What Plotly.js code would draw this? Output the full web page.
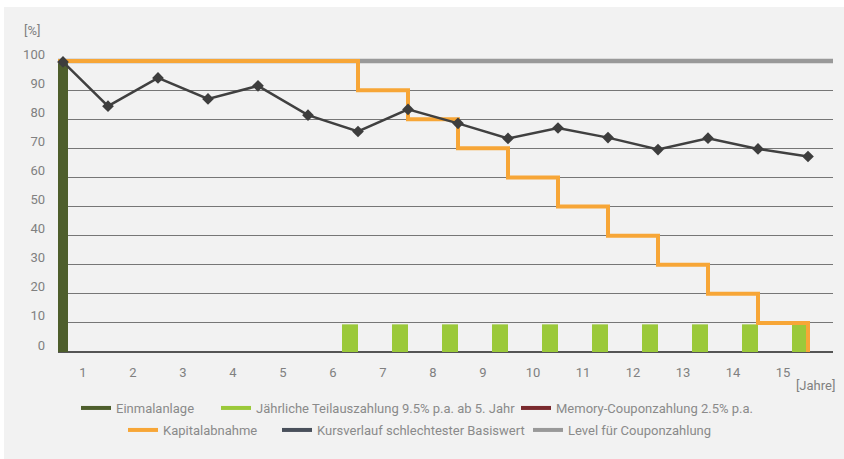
<!DOCTYPE html>
<html><head><meta charset="utf-8">
<script src="https://cdn.plot.ly/plotly-3.0.1.min.js"></script>
<style>html,body{margin:0;padding:0;background:#fff;} #chart{position:absolute;left:4px;top:7px;width:840px;height:452px;}</style>
</head><body><div id="chart"></div>
<script>
// tick labels (years)
const yearLabels = ['1','2','3','4','5','6','7','8','9','10','11','12','13','14','15'];
const yTickVals = [0,10,20,30,40,50,60,70,80,90,100];

// Einmalanlage (initial investment)
const einmalX = [0];
const einmalY = [100];

// Jährliche Teilauszahlung 9.5% p.a. ab 5. Jahr
const teilX = [6,7,8,9,10,11,12,13,14,15];
const teilY = [9.5,9.5,9.5,9.5,9.5,9.5,9.5,9.5,9.5,9.5];

// Memory-Couponzahlung 2.5% p.a. (no visible values)
const memoryX = [null];
const memoryY = [null];

// Kapitalabnahme (step line)
const kapitalX = [0,6,7,8,9,10,11,12,13,14,15];
const kapitalY = [100,90,80,70,60,50,40,30,20,10,0];

// Kursverlauf schlechtester Basiswert
const kursX = [0.1,1,2,3,4,5,6,7,8,9,10,11,12,13,14,15];
const kursY = [99.7,84.5,94.2,87,91.5,81.4,75.8,83.4,78.6,73.4,77,73.7,69.6,73.5,69.8,67.2];

// Level für Couponzahlung
const levelX = [0,15.5];
const levelY = [100,100];

const names = ['Einmalanlage','Jährliche Teilauszahlung 9.5% p.a. ab 5. Jahr','Memory-Couponzahlung 2.5% p.a.','Kapitalabnahme','Kursverlauf schlechtester Basiswert','Level für Couponzahlung'];
const colors = ['#4E5E2C','#9BC93A','#7A2A2E','#F7A637','#49505B','#999999'];

const tickPos = yearLabels.map((_, i) => i + 0.5);

const traces = [
  {type:'bar', x:einmalX, y:einmalY, offset:0, width:0.2, marker:{color:colors[0]}, showlegend:false, hoverinfo:'skip'},
  {type:'bar', x:teilX, y:teilY, offset:-0.32, width:0.32, marker:{color:colors[1]}, showlegend:false, hoverinfo:'skip'},
  {type:'bar', x:memoryX, y:memoryY, marker:{color:colors[2]}, showlegend:false, hoverinfo:'skip'},
  {type:'scatter', mode:'lines', x:levelX, y:levelY, line:{color:colors[5], width:4.5}, showlegend:false},
  {type:'scatter', mode:'lines', x:kapitalX, y:kapitalY, line:{color:colors[3], width:4, shape:'hv'}, showlegend:false},
  {type:'scatter', mode:'lines+markers', x:kursX, y:kursY, line:{color:'#404040', width:2.5}, marker:{symbol:'diamond', size:9, color:'#3d3d3d'}, showlegend:false, cliponaxis:false}
];

const legendNames = ['legend','legend2','legend3','legend4','legend5','legend6'];
names.forEach((n, i) => {
  traces.push({type:'scatter', mode:'lines', x:[null], y:[null], name:n, line:{color:colors[i], width:4}, legend:legendNames[i], showlegend:true, hoverinfo:'skip'});
});

// legend positions in paper coords
const PL = 58, PW = 775, PB = 352, PH = 304;
const px = a => (a - PL) / PW;
const py = a => (PB - a) / PH;
const legTextStart = [117, 257, 557, 164, 318, 569];
const legRowY = [408, 408, 408, 430, 430, 430];
const legendFont = {family:'Roboto, Liberation Sans, sans-serif', size:13, color:'#8a8a8a'};

const layout = {
  paper_bgcolor:'#f2f2f2', plot_bgcolor:'#f2f2f2',
  margin:{l:54, r:11, t:41, b:107},
  barmode:'overlay',
  font:{family:'Roboto, Liberation Sans, sans-serif', size:13, color:'#808080'},
  xaxis:{type:'linear', range:[0,15.5], tickmode:'array', tickvals:tickPos, ticktext:yearLabels, showgrid:false, zeroline:false, showline:false, ticks:'', ticklabelstandoff:11, fixedrange:true},
  yaxis:{range:[0,104.5], tickmode:'array', tickvals:yTickVals, showgrid:true, gridcolor:'#767676', gridwidth:1, zeroline:true, zerolinecolor:'#555555', zerolinewidth:1.5, showline:false, ticks:'', ticklabelstandoff:12, ticklabelshift:-7, fixedrange:true},
  annotations:[
    {text:'[%]', xref:'paper', yref:'paper', x:px(32), y:py(30), xanchor:'center', yanchor:'middle', showarrow:false, font:{size:13, color:'#808080'}},
    {text:'[Jahre]', xref:'paper', yref:'paper', x:px(815), y:py(385), xanchor:'center', yanchor:'middle', showarrow:false, font:{size:13, color:'#808080'}}
  ]
};
legendNames.forEach((ln, i) => {
  layout[ln] = {x:px(legTextStart[i] - 41), y:py(legRowY[i]), xanchor:'left', yanchor:'middle', orientation:'h', bgcolor:'rgba(0,0,0,0)', font:legendFont, itemclick:false, itemdoubleclick:false};
});

Plotly.newPlot('chart', traces, layout, {displayModeBar:false, staticPlot:true});
</script>
</body></html>
